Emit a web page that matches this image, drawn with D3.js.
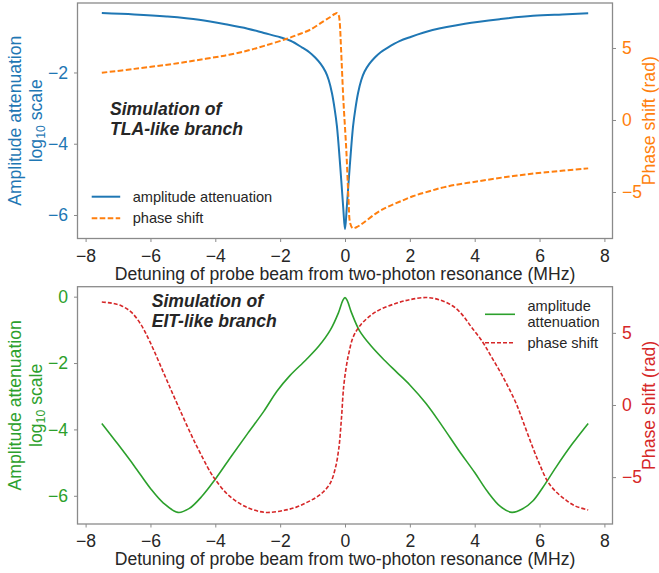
<!DOCTYPE html>
<html>
<head>
<meta charset="utf-8">
<script src="https://cdn.jsdelivr.net/npm/d3@7"></script>
<style>
  html, body { margin: 0; padding: 0; background: #fff; }
  svg { display: block; font-family: "Liberation Sans", Arial, sans-serif; }
</style>
</head>
<body>
<svg id="chart" width="659" height="573"></svg>
<script>
// Detuning ticks (MHz)
const xTicks = [-8, -6, -4, -2, 0, 2, 4, 6, 8];
const ampTicks = [-6, -4, -2];
const ampTicksEIT = [-6, -4, -2, 0];
const phaseTicks = [-5, 0, 5];

// TLA-like branch: amplitude attenuation (log10) vs detuning
const tlaAmpX = [-7.5, -6.5, -5.5, -4.5, -3.6, -3.0, -2.5, -2.0, -1.68, -1.32, -1.1, -0.92, -0.75, -0.6, -0.5, -0.4, -0.32, -0.25, -0.145, -0.055, 0,
                 0.055, 0.145, 0.25, 0.32, 0.4, 0.5, 0.6, 0.75, 0.92, 1.1, 1.32, 1.68, 2.0, 2.7, 3.7, 4.8, 5.8, 6.7, 7.5];
const tlaAmpY = [-0.33, -0.37, -0.43, -0.52, -0.66, -0.77, -0.89, -1.01, -1.11, -1.30, -1.43, -1.58, -1.76, -1.98, -2.22, -2.59, -3.02, -3.50, -4.66, -5.79, -6.40,
                 -5.79, -4.66, -3.50, -3.02, -2.59, -2.22, -1.98, -1.76, -1.58, -1.43, -1.30, -1.12, -1.01, -0.81, -0.63, -0.50, -0.41, -0.37, -0.34];

// TLA-like branch: phase shift (rad)
const tlaPhaseX = [-7.5, -6.5, -5.16, -4.3, -3.62, -3.0, -2.49, -1.82, -1.46, -1.09, -0.68, -0.45, -0.32, -0.24, -0.19, -0.16,
                   -0.12, -0.05, 0.04, 0.11, 0.16, 0.24, 0.35, 0.55, 0.96, 1.3, 1.68, 2.09, 2.6, 3.12, 4.15, 5.19, 6.2, 7.5];
const tlaPhaseY = [3.28, 3.55, 3.94, 4.25, 4.51, 4.82, 5.15, 5.62, 5.92, 6.25, 6.83, 7.15, 7.36, 7.42, 7.25, 6.70,
                   4.86, 1.39, -2.08, -5.56, -7.17, -7.52, -7.45, -7.17, -6.48, -6.05, -5.68, -5.30, -4.95, -4.63, -4.24, -3.89, -3.63, -3.36];

// EIT-like branch: amplitude attenuation (log10)
const eitAmpX = [-7.5, -7.0, -6.5, -6.0, -5.6, -5.15, -4.8, -4.4, -4.0, -3.5, -3.0, -2.5, -2.1, -1.7, -1.2, -0.8, -0.45, -0.2, -0.07, 0,
                 0.07, 0.2, 0.45, 0.8, 1.2, 1.6, 2.0, 2.5, 3.0, 3.5, 4.0, 4.4, 4.8, 5.15, 5.5, 5.8, 6.1, 6.5, 7.0, 7.5];
const eitAmpY = [-3.82, -4.45, -5.10, -5.78, -6.22, -6.50, -6.38, -6.00, -5.50, -4.80, -4.12, -3.45, -2.85, -2.38, -1.90, -1.48, -1.00, -0.48, -0.12, -0.03,
                 -0.12, -0.48, -1.03, -1.48, -1.90, -2.28, -2.66, -3.22, -3.90, -4.62, -5.30, -5.88, -6.33, -6.50, -6.38, -6.15, -5.75, -5.15, -4.45, -3.82];

// EIT-like branch: phase shift (rad)
const eitPhaseX = [-7.5, -7.2, -6.9, -6.6, -6.3, -6.0, -5.57, -5.16, -4.65, -4.14, -3.99, -3.62, -3.11, -2.49, -1.87, -1.5, -1.2, -0.9, -0.68,
                   -0.45, -0.3, -0.19, -0.11, -0.04, 0.05, 0.12, 0.25, 0.5, 0.96, 1.58, 2.0, 2.5, 2.9, 3.3, 3.6, 3.9, 4.25, 4.5, 4.76, 5.0,
                   5.28, 5.55, 5.8, 6.0, 6.25, 6.5, 6.82, 7.1, 7.5];
const eitPhaseY = [7.14, 7.06, 6.88, 6.45, 5.60, 4.30, 2.10, 0.00, -2.50, -4.70, -5.20, -6.20, -7.00, -7.44, -7.30, -7.08, -6.78, -6.42, -6.05,
                   -5.40, -4.40, -3.00, -0.95, 1.30, 2.80, 3.60, 4.70, 5.60, 6.47, 7.05, 7.30, 7.45, 7.30, 6.90, 6.30, 5.40, 4.35, 3.40, 2.40, 1.40,
                   0.10, -1.50, -3.00, -4.10, -5.30, -6.00, -6.60, -7.00, -7.28];

// Axis limits
const xDomain = [-8.25, 8.25];
const tlaAmpDomain = [-6.66, -0.05];
const tlaPhaseDomain = [-8.23, 8.125];
const eitAmpDomain = [-6.85, 0.30];
const eitPhaseDomain = [-8.25, 8.20];

const C = {
  blue: "#1f77b4", orange: "#ff7f0e", green: "#2ca02c", red: "#d62728",
  text: "#262626", frame: "#8a8a8a"
};
const FS = 17.6, LFS = 14.6;

const svg = d3.select("#chart");

function panel(opts) {
  const { top, bottom, left, right } = opts.box;
  const x = d3.scaleLinear().domain(xDomain).range([left, right]);
  const yL = d3.scaleLinear().domain(opts.ampDomain).range([bottom, top]);
  const yR = d3.scaleLinear().domain(opts.phaseDomain).range([bottom, top]);
  const g = svg.append("g");

  // axes
  const ax = g.append("g").attr("transform", `translate(0,${bottom})`)
    .call(d3.axisBottom(x).tickValues(xTicks).tickSize(3.5).tickPadding(7.5).tickFormat(d3.format("d")));
  ax.selectAll("text").attr("fill", C.text).style("font-size", FS + "px");
  const al = g.append("g").attr("transform", `translate(${left},0)`)
    .call(d3.axisLeft(yL).tickValues(opts.ampTicks).tickSize(3.5).tickPadding(6).tickFormat(d3.format("d")));
  al.selectAll("text").attr("fill", opts.ampColor).style("font-size", FS + "px");
  const ar = g.append("g").attr("transform", `translate(${right},0)`)
    .call(d3.axisRight(yR).tickValues(phaseTicks).tickSize(3.5).tickPadding(6).tickFormat(d3.format("d")));
  ar.selectAll("text").attr("fill", opts.phaseColor).style("font-size", FS + "px");
  [ax, al, ar].forEach(a => {
    a.select(".domain").remove();
    a.selectAll(".tick line").attr("stroke", C.frame).attr("stroke-width", 1);
    a.attr("font-family", null);
  });

  // curves
  const clipId = "clip" + opts.id;
  g.append("clipPath").attr("id", clipId).append("rect")
    .attr("x", left).attr("y", top).attr("width", right - left).attr("height", bottom - top);
  const curve = d3.curveCatmullRom.alpha(0.5);
  const lineL = d3.line().x(d => x(d[0])).y(d => yL(d[1])).curve(curve);
  const lineR = d3.line().x(d => x(d[0])).y(d => yR(d[1])).curve(curve);
  g.append("path").attr("clip-path", `url(#${clipId})`)
    .datum(d3.zip(opts.ampX, opts.ampY)).attr("d", lineL)
    .attr("fill", "none").attr("stroke", opts.ampColor).attr("stroke-width", opts.ampWidth)
    .attr("stroke-linejoin", "round");
  g.append("path").attr("clip-path", `url(#${clipId})`)
    .datum(d3.zip(opts.phaseX, opts.phaseY)).attr("d", lineR)
    .attr("fill", "none").attr("stroke", opts.phaseColor).attr("stroke-width", opts.phaseWidth)
    .attr("stroke-dasharray", opts.dash);

  // frame
  g.append("rect").attr("x", left).attr("y", top).attr("width", right - left).attr("height", bottom - top)
    .attr("fill", "none").attr("stroke", C.frame).attr("stroke-width", 1.3);

  // axis titles
  g.append("text").attr("x", (left + right) / 2).attr("y", opts.xLabelY)
    .attr("text-anchor", "middle").attr("fill", C.text).style("font-size", FS + "px")
    .text("Detuning of probe beam from two-photon resonance (MHz)");
  const cy = (top + bottom) / 2;
  const yl = g.append("text").attr("transform", `translate(20.7,${cy}) rotate(-90)`)
    .attr("text-anchor", "middle").attr("fill", opts.ampColor).style("font-size", FS + "px");
  yl.append("tspan").attr("x", 0).attr("y", 0).text("Amplitude attenuation");
  const l2 = yl.append("tspan").attr("x", 0).attr("y", 21);
  l2.append("tspan").text("log");
  l2.append("tspan").attr("dy", 3.5).style("font-size", (FS * 0.7) + "px").text("10");
  l2.append("tspan").attr("dy", -3.5).text(" scale");
  g.append("text").attr("transform", `translate(655,${cy}) rotate(-90)`)
    .attr("text-anchor", "middle").attr("fill", opts.phaseColor).style("font-size", FS + "px")
    .text("Phase shift (rad)");

  // annotation
  const ann = g.append("text").attr("fill", C.text).style("font-size", FS + "px")
    .style("font-weight", "bold").style("font-style", "italic");
  ann.append("tspan").attr("x", opts.ann.x).attr("y", opts.ann.y).text("Simulation of");
  ann.append("tspan").attr("x", opts.ann.x).attr("y", opts.ann.y + 20).text(opts.ann.line2);

  // legend
  const lg = opts.legend;
  lg.items.forEach(it => {
    g.append("line").attr("x1", lg.x).attr("x2", lg.x + lg.w).attr("y1", it.y).attr("y2", it.y)
      .attr("stroke", it.color).attr("stroke-width", it.width).attr("stroke-dasharray", it.dash || null);
    const t = g.append("text").attr("fill", C.text).style("font-size", LFS + "px");
    const n = it.lines.length;
    it.lines.forEach((s, i) => {
      t.append("tspan").attr("x", lg.x + lg.w + 12.5)
        .attr("y", it.y + 5 + (i - (n - 1) / 2) * 16.3).text(s);
    });
  });
}

panel({
  id: "tla",
  box: { top: 3, bottom: 238.5, left: 77.5, right: 612.5 },
  ampDomain: tlaAmpDomain, phaseDomain: tlaPhaseDomain, ampTicks: ampTicks,
  ampX: tlaAmpX, ampY: tlaAmpY, phaseX: tlaPhaseX, phaseY: tlaPhaseY,
  ampColor: C.blue, phaseColor: C.orange, ampWidth: 2, phaseWidth: 2, dash: "5.6,2.4",
  xLabelY: 280,
  ann: { x: 110, y: 115, line2: "TLA-like branch" },
  legend: { x: 91.7, w: 28.5, items: [
    { y: 196.7, color: C.blue, width: 2, lines: ["amplitude attenuation"] },
    { y: 218.3, color: C.orange, width: 2, dash: "5.6,2.4", lines: ["phase shift"] }
  ] }
});

panel({
  id: "eit",
  box: { top: 286.7, bottom: 524, left: 77.5, right: 612.5 },
  ampDomain: eitAmpDomain, phaseDomain: eitPhaseDomain, ampTicks: ampTicksEIT,
  ampX: eitAmpX, ampY: eitAmpY, phaseX: eitPhaseX, phaseY: eitPhaseY,
  ampColor: C.green, phaseColor: C.red, ampWidth: 1.6, phaseWidth: 1.6, dash: "4,2",
  xLabelY: 565,
  ann: { x: 151.7, y: 306.7, line2: "EIT-like branch" },
  legend: { x: 485, w: 30, items: [
    { y: 314.3, color: C.green, width: 1.6, lines: ["amplitude", "attenuation"] },
    { y: 342.7, color: C.red, width: 1.6, dash: "4,2", lines: ["phase shift"] }
  ] }
});
</script>
</body>
</html>
